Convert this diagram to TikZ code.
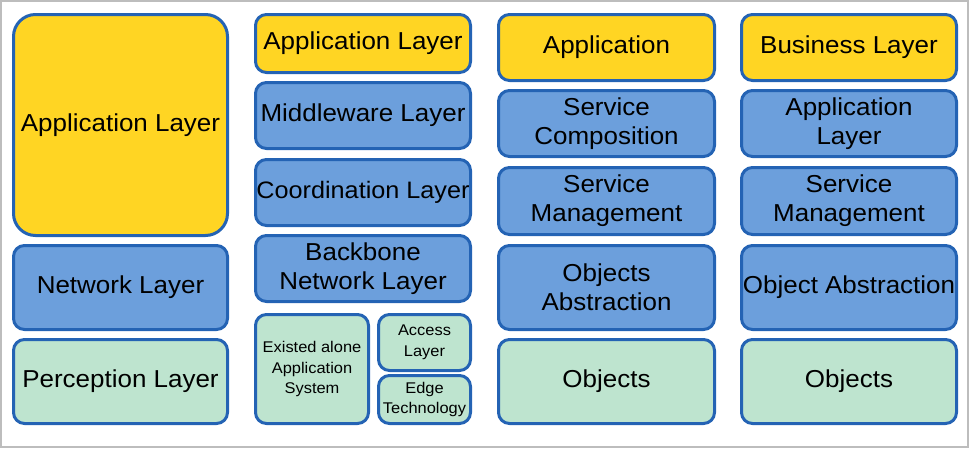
\documentclass[tikz,border=0pt]{standalone}
\usepackage{fontspec}
\setmainfont{Liberation Sans}[FakeStretch=1.06]
\definecolor{bord}{HTML}{2463B4}
\definecolor{yel}{HTML}{FFD523}
\definecolor{blu}{HTML}{6C9FDC}
\definecolor{grn}{HTML}{BEE4CF}
\definecolor{frm}{HTML}{BDBDBD}
\tikzset{
  box/.style={draw=bord, line width=3pt, rounded corners=11pt, inner sep=0pt, align=center, text=black},
  ybox/.style={box, fill=yel},
  bbox/.style={box, fill=blu},
  gbox/.style={box, fill=grn},
  big/.style={font=\fontsize{24.5}{29}\selectfont},
  tight/.style={font=\fontsize{23.8}{29}\selectfont},
  small/.style={font=\fontsize{15.5}{20.5}\selectfont},
}
\newcommand\BX[7]{%
  \pgfmathsetmacro\cx{(#3+#5)/2}%
  \pgfmathsetmacro\cy{(#4+#6)/2+1}%
  \pgfmathsetmacro\ww{#5-#3-3}%
  \pgfmathsetmacro\hh{#6-#4-3}%
  \node[#2, minimum width=\ww pt, minimum height=\hh pt] (#1) at (\cx,\cy) {#7};}
\begin{document}
\begin{tikzpicture}[x=1pt,y=-1pt]
\useasboundingbox (0,0) rectangle (969,448);
\draw[frm, line width=2pt] (1,1) rectangle (968,447);
% column 1
\BX{aA}{ybox,big,rounded corners=22pt}{12}{12}{229}{236}{Application Layer}
\BX{aN}{bbox,big}{12}{243}{229}{330}{Network Layer}
\BX{aP}{gbox,big}{12}{337}{229}{424}{Perception Layer}
% column 2
\BX{bA}{ybox,big}{254}{12}{472}{73}{Application Layer}
\BX{bM}{bbox,big}{254}{80}{472}{149}{Middleware Layer}
\BX{bC}{bbox,tight}{254}{157}{472}{226}{Coordination Layer}
\BX{bB}{bbox,big}{254}{233}{472}{302}{Backbone\\Network Layer}
\BX{bE}{gbox,small}{254}{312}{370}{424}{Existed alone\\Application\\System}
\BX{bAc}{gbox,small}{377}{312}{472}{371}{Access\\Layer}
\BX{bEd}{gbox,small}{377}{373}{472}{424}{Edge\\Technology}
% column 3
\BX{cA}{ybox,big}{497}{12}{716}{81}{Application}
\BX{cS}{bbox,big}{497}{88}{716}{157}{Service\\Composition}
\BX{cM}{bbox,big}{497}{165}{716}{235}{Service\\Management}
\BX{cO}{bbox,big}{497}{243}{716}{330}{Objects\\Abstraction}
\BX{cB}{gbox,big}{497}{337}{716}{424}{Objects}
% column 4
\BX{dA}{ybox,big}{740}{12}{958}{81}{Business Layer}
\BX{dL}{bbox,big}{740}{88}{958}{157}{Application\\Layer}
\BX{dM}{bbox,big}{740}{165}{958}{235}{Service\\Management}
\BX{dO}{bbox,big}{740}{243}{958}{330}{Object Abstraction}
\BX{dB}{gbox,big}{740}{337}{958}{424}{Objects}
\end{tikzpicture}
\end{document}
